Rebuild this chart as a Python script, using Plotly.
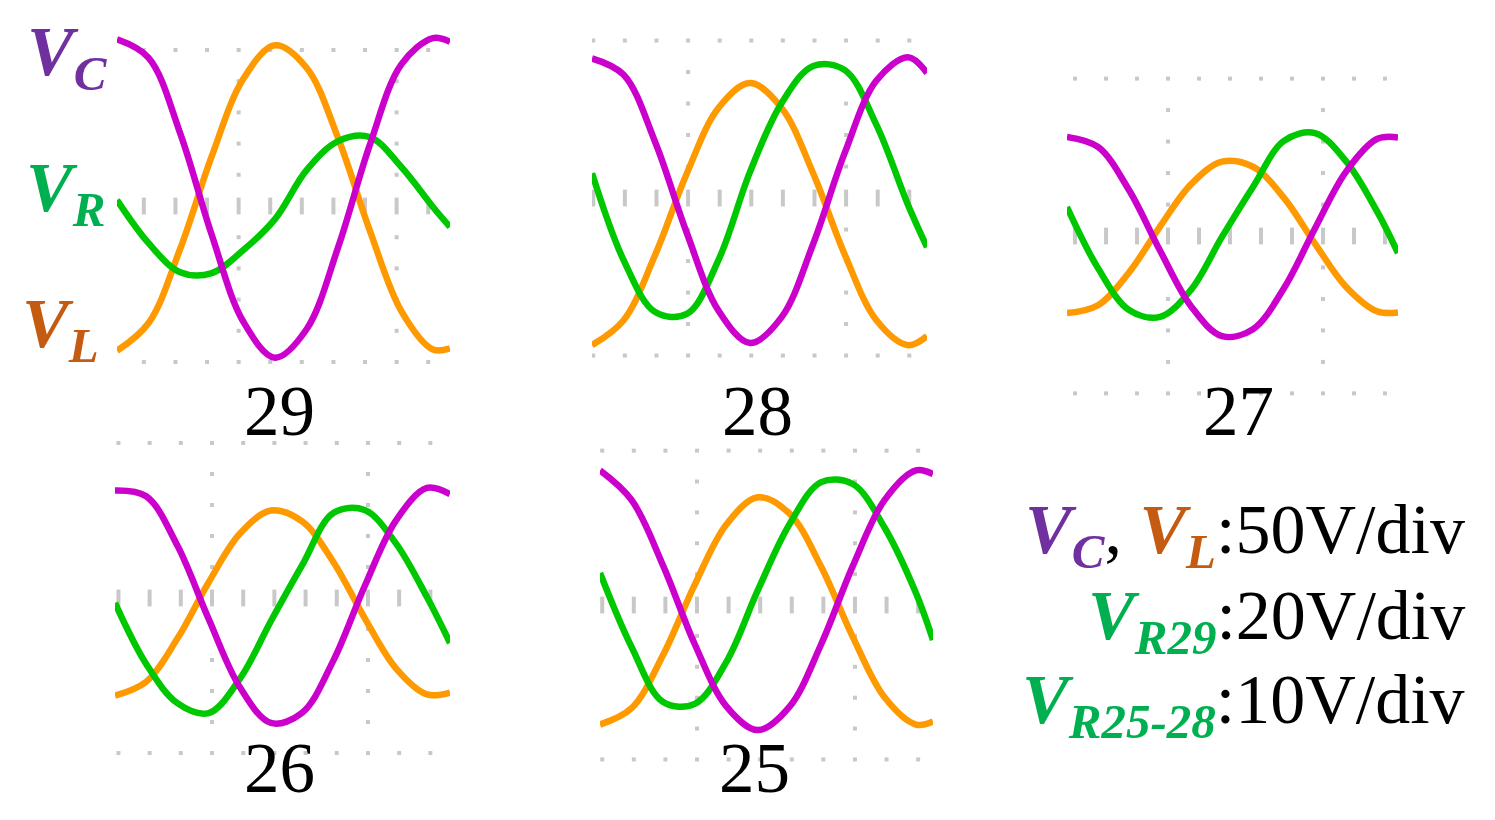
import plotly.graph_objects as go

# ---------------- data: time in screen divisions, voltage in divisions from the centre line
T29 = [0, 1, 2, 3, 4, 5, 6, 7, 8, 9, 10, 10.54]
VC29 = [5.34, 4.75, 2.33, -0.93, -3.71, -4.86, -3.95, -1.32, 1.95, 4.54, 5.38, 5.26]
VL29 = [-4.64, -3.75, -1.37, 1.60, 4.08, 5.15, 4.43, 2.17, -0.78, -3.37, -4.60, -4.56]
VR29 = [0.19, -1.19, -2.12, -2.15, -1.41, -0.42, 1.15, 2.08, 2.21, 1.25, -0.03, -0.67]

T28 = [0, 1, 2, 3, 4, 5, 6, 7, 8, 9, 10, 10.6]
VC28 = [4.43, 3.91, 1.77, -1.11, -3.57, -4.60, -3.78, -1.45, 1.44, 3.73, 4.47, 3.97]
VL28 = [-4.67, -3.88, -1.80, 0.78, 2.86, 3.65, 2.86, 0.78, -1.80, -3.88, -4.67, -4.38]
VR28 = [0.79, -1.97, -3.62, -3.68, -1.97, 0.83, 3.02, 4.19, 4.06, 2.32, -0.22, -1.56]

T27 = [0, 1, 2, 3, 4, 5, 6, 7, 8, 9, 10, 10.68]
VC27 = [3.15, 2.83, 1.46, -0.46, -2.23, -3.18, -2.96, -1.66, 0.24, 2.04, 3.08, 3.13]
VL27 = [-2.45, -2.20, -1.16, 0.30, 1.64, 2.36, 2.20, 1.21, -0.24, -1.61, -2.39, -2.43]
VR27 = [0.92, -1.02, -2.35, -2.57, -1.71, -0.03, 1.56, 3.02, 3.27, 2.38, 0.79, -0.54]

T26 = [0, 1, 2, 3, 4, 5, 6, 7, 8, 9, 10, 10.74]
VC26 = [3.47, 3.28, 1.69, -0.67, -2.87, -4.03, -3.70, -2.02, 0.37, 2.49, 3.55, 3.35]
VL26 = [-3.15, -2.70, -1.31, 0.50, 2.07, 2.82, 2.47, 1.16, -0.64, -2.26, -3.11, -3.05]
VR26 = [-0.16, -2.13, -3.39, -3.71, -2.61, -0.74, 1.06, 2.74, 2.84, 1.77, 0.03, -1.45]

T25 = [0, 1, 2, 3, 4, 5, 6, 7, 8, 9, 10, 10.54]
VC25 = [4.36, 3.40, 1.27, -1.27, -3.28, -4.05, -3.29, -1.27, 1.26, 3.39, 4.36, 4.24]
VL25 = [-3.87, -3.34, -1.61, 0.66, 2.61, 3.49, 2.96, 1.24, -1.03, -2.98, -3.87, -3.77]
VR25 = [1.04, -1.36, -3.14, -3.20, -1.84, 0.49, 2.62, 3.98, 3.92, 2.52, 0.39, -1.13]

PANEL_LABELS = ["29", "28", "27", "26", "25"]

W, H = 1495, 820
MAGENTA = "#CC00CC"
ORANGE = "#FF9900"
GREEN = "#00C800"
GRID = "#C8C8C8"
FONT = "Liberation Serif, Times New Roman, serif"

# ----------------panel placement (pixels) : x px, y px, x range, y range, grid column offset, label centre
panels = [
    dict(t=T29, vc=VC29, vl=VL29, vr=VR29, px=(117, 450), py=(28, 372), xr=(0, 10.54), yr=(-5.32, 5.705), g0=0.85, lab=(279, 411)),
    dict(t=T28, vc=VC28, vl=VL28, vr=VR28, px=(592, 927), py=(38, 365), xr=(0, 10.6), yr=(-5.30, 5.08), g0=0.04, lab=(758, 411)),
    dict(t=T27, vc=VC27, vl=VL27, vr=VR27, px=(1067, 1398), py=(72, 400), xr=(0, 10.68), yr=(-5.21, 5.21), g0=0.26, lab=(1238, 411)),
    dict(t=T26, vc=VC26, vl=VL26, vr=VR26, px=(115, 450), py=(438, 758), xr=(0, 10.74), yr=(-5.16, 5.16), g0=0.11, lab=(279, 768)),
    dict(t=T25, vc=VC25, vl=VL25, vr=VR25, px=(600, 933), py=(446, 765), xr=(0, 10.54), yr=(-5.18, 5.15), g0=0.07, lab=(754, 768)),
]

fig = go.Figure()
layout = {}
annotations = []

for i, p in enumerate(panels):
    n = "" if i == 0 else str(i + 1)
    xa, ya = "x" + n, "y" + n

    # grid dots of the scope screen
    cols = [p["g0"] + k for k in range(11) if p["g0"] + k <= p["xr"][1]]
    gx = cols + cols
    gy = [5] * len(cols) + [-5] * len(cols)
    for c in (cols[3], cols[8]):
        for v in (-4, -3, -2, -1, 1, 2, 3, 4):
            gx.append(c)
            gy.append(v)
    fig.add_trace(go.Scatter(x=gx, y=gy, mode="markers", xaxis=xa, yaxis=ya,
                             marker=dict(symbol="square", size=4, color=GRID), hoverinfo="skip"))
    fig.add_trace(go.Scatter(x=cols, y=[0] * len(cols), mode="markers", xaxis=xa, yaxis=ya,
                             marker=dict(symbol="line-ns", size=12, line=dict(width=4, color=GRID)),
                             hoverinfo="skip"))

    for ys, col in ((p["vl"], ORANGE), (p["vr"], GREEN), (p["vc"], MAGENTA)):
        fig.add_trace(go.Scatter(x=p["t"], y=ys, mode="lines", xaxis=xa, yaxis=ya,
                                 line=dict(color=col, width=6.5, shape="spline")))

    x0, x1 = p["px"]
    y0, y1 = p["py"]
    layout["xaxis" + n] = dict(domain=[x0 / W, x1 / W], range=list(p["xr"]), visible=False,
                               fixedrange=True, anchor=ya)
    layout["yaxis" + n] = dict(domain=[1 - y1 / H, 1 - y0 / H], range=list(p["yr"]), visible=False,
                               fixedrange=True, anchor=xa)

    lx, ly = p["lab"]
    annotations.append(dict(text=PANEL_LABELS[i], x=lx / W, y=1 - ly / H, xref="paper", yref="paper",
                            xanchor="center", yanchor="middle", showarrow=False,
                            font=dict(family=FONT, size=71, color="black")))


def vlab(sub, color):
    return (f"<span style='color:{color}'><b><i>V</i></b><sub><b><i>{sub}</i></b></sub></span>")


PURPLE = "#7030A0"
BROWN = "#C55A11"
VGREEN = "#00B050"

for sub, color, (cx, cy) in (("C", PURPLE, (67, 57)), ("R", VGREEN, (65, 193)), ("L", BROWN, (60, 329))):
    annotations.append(dict(text=vlab(sub, color), x=cx / W, y=1 - cy / H, xref="paper", yref="paper",
                            xanchor="center", yanchor="middle", showarrow=False,
                            font=dict(family=FONT, size=70)))

legend_rows = [
    (vlab("C", PURPLE) + ", " + vlab("L", BROWN) + ":50V/div", 535),
    (vlab("R29", VGREEN) + ":20V/div", 621),
    (vlab("R25-28", VGREEN) + ":10V/div", 705),
]
for txt, cy in legend_rows:
    annotations.append(dict(text=txt, x=1467 / W, y=1 - cy / H, xref="paper", yref="paper",
                            xanchor="right", yanchor="middle", showarrow=False,
                            font=dict(family=FONT, size=70, color="black")))

fig.update_layout(
    width=W, height=H,
    margin=dict(l=0, r=0, t=0, b=0),
    paper_bgcolor="white", plot_bgcolor="rgba(0,0,0,0)",
    showlegend=False,
    annotations=annotations,
    **layout,
)

# the page body keeps its default 8px margin otherwise
fig.write_html("out.html", config=dict(displayModeBar=False),
               post_script="document.body.style.margin='0';")
